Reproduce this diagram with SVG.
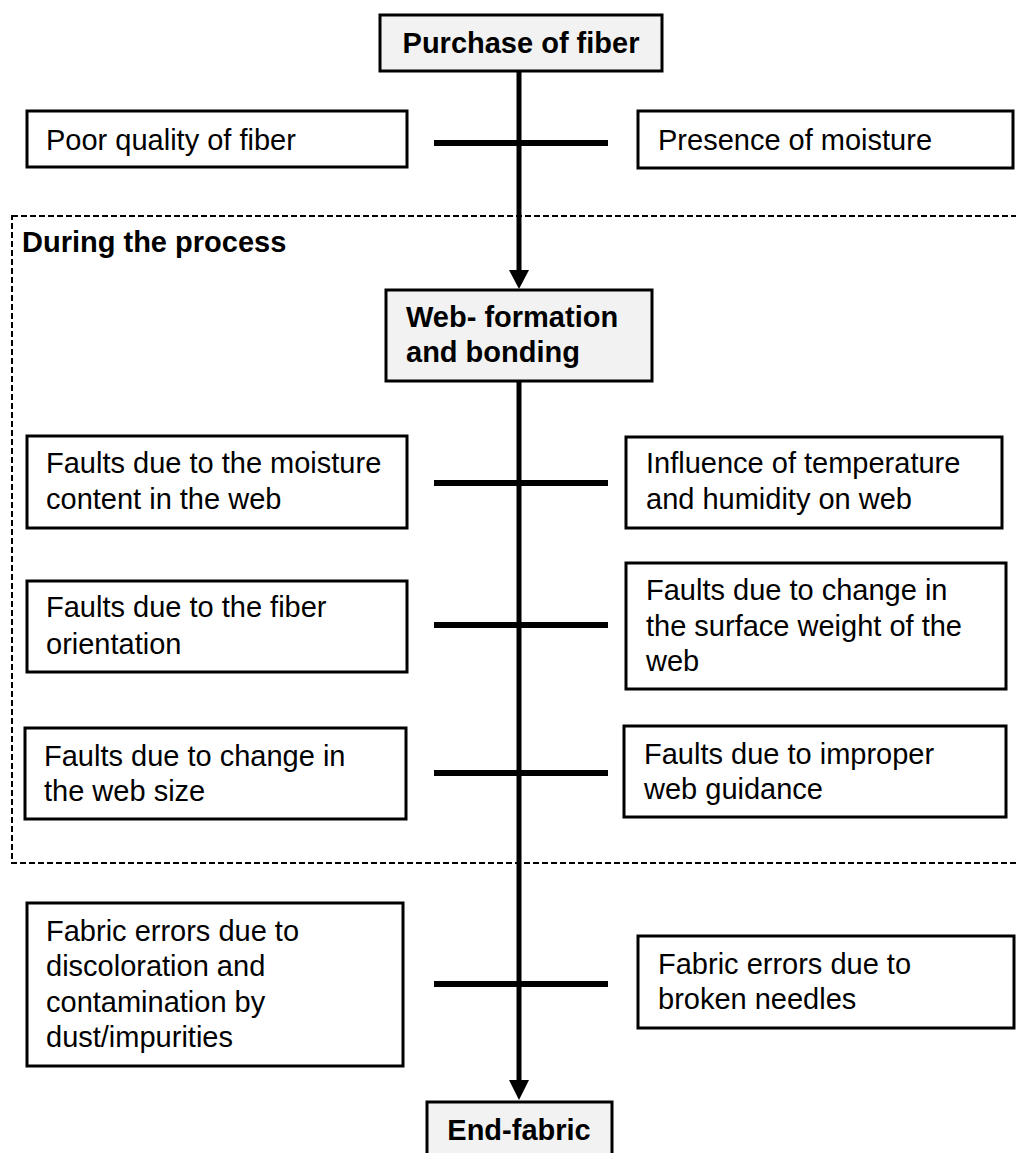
<svg xmlns="http://www.w3.org/2000/svg" width="1016" height="1153" viewBox="0 0 1016 1153">
<style>
.box{fill:#fff;stroke:#000;stroke-width:3}
.main{fill:#f2f2f2;stroke:#000;stroke-width:3}
.t{font-family:"Liberation Sans",Arial,sans-serif;font-size:29px;fill:#000}
.b{font-weight:bold}
.spine{stroke:#000;stroke-width:5;fill:none}
.tick{stroke:#000;stroke-width:6}
.dash{fill:none;stroke:#000;stroke-width:2;stroke-dasharray:6,3}
</style>
<defs>
<marker id="ah" markerUnits="userSpaceOnUse" markerWidth="20" markerHeight="20" refX="10" refY="18" orient="auto" viewBox="0 0 20 20">
<path d="M0,0 L20,0 L10,18 Z" fill="#000" transform="rotate(-90 10 10)"/>
</marker>
</defs>
<rect class="dash" x="12" y="216" width="1020" height="647"/>
<text class="t b" x="22" y="252">During the process</text>
<g id="connectors">
<line class="spine" x1="519" y1="71" x2="519" y2="272"/>
<polygon points="509,270 529,270 519,289" fill="#000"/>
<line class="spine" x1="519" y1="381" x2="519" y2="1082"/>
<polygon points="509,1080 529,1080 519,1100" fill="#000"/>
<line class="tick" x1="434" y1="143" x2="608" y2="143"/>
<line class="tick" x1="434" y1="483" x2="608" y2="483"/>
<line class="tick" x1="434" y1="625" x2="608" y2="625"/>
<line class="tick" x1="434" y1="773" x2="608" y2="773"/>
<line class="tick" x1="434" y1="984" x2="608" y2="984"/>
</g>
<g id="purchase">
<rect class="main" x="380" y="15" width="282" height="56"/>
<text class="t b" x="521" y="53" text-anchor="middle">Purchase of fiber</text>
</g>
<g id="poor-quality">
<rect class="box" x="27" y="111" width="380" height="56"/>
<text class="t" x="46" y="150">Poor quality of fiber</text>
</g>
<g id="moisture">
<rect class="box" x="638" y="111" width="375" height="57"/>
<text class="t" x="658" y="150">Presence of moisture</text>
</g>
<g id="web-formation">
<rect class="main" x="386" y="290" width="266" height="91"/>
<text class="t b" x="406" y="327">Web- formation</text>
<text class="t b" x="406" y="362">and bonding</text>
</g>
<g id="moisture-content">
<rect class="box" x="27" y="436" width="380" height="92"/>
<text class="t" x="46" y="473">Faults due to the moisture</text>
<text class="t" x="46" y="509">content in the web</text>
</g>
<g id="temperature">
<rect class="box" x="626" y="437" width="376" height="91"/>
<text class="t" x="646" y="473">Influence of temperature</text>
<text class="t" x="646" y="509">and humidity on web</text>
</g>
<g id="fiber-orientation">
<rect class="box" x="27" y="581" width="380" height="91"/>
<text class="t" x="46" y="617">Faults due to the fiber</text>
<text class="t" x="46" y="654">orientation</text>
</g>
<g id="surface-weight">
<rect class="box" x="626" y="563" width="380" height="126"/>
<text class="t" x="646" y="600">Faults due to change in</text>
<text class="t" x="646" y="636">the surface weight of the</text>
<text class="t" x="646" y="671">web</text>
</g>
<g id="web-size">
<rect class="box" x="25" y="728" width="381" height="91"/>
<text class="t" x="44" y="766">Faults due to change in</text>
<text class="t" x="44" y="801">the web size</text>
</g>
<g id="guidance">
<rect class="box" x="624" y="726" width="382" height="91"/>
<text class="t" x="644" y="764">Faults due to improper</text>
<text class="t" x="644" y="799">web guidance</text>
</g>
<g id="discoloration">
<rect class="box" x="27" y="903" width="376" height="163"/>
<text class="t" x="46" y="941">Fabric errors due to</text>
<text class="t" x="46" y="976">discoloration and</text>
<text class="t" x="46" y="1012">contamination by</text>
<text class="t" x="46" y="1047">dust/impurities</text>
</g>
<g id="needles">
<rect class="box" x="638" y="936" width="376" height="92"/>
<text class="t" x="658" y="974">Fabric errors due to</text>
<text class="t" x="658" y="1009">broken needles</text>
</g>
<g id="end-fabric">
<rect class="main" x="427" y="1102" width="185" height="70"/>
<text class="t b" x="519" y="1140" text-anchor="middle">End-fabric</text>
</g>
</svg>
